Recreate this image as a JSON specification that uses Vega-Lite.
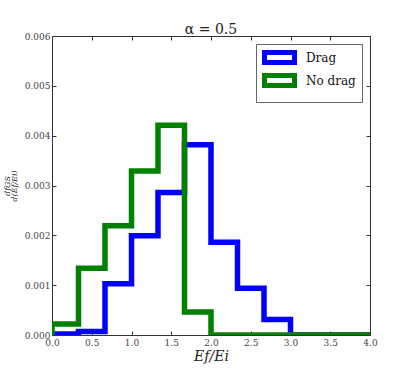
{
  "$schema": "https://vega.github.io/schema/vega-lite/v6.json",
  "width": 318,
  "height": 299,
  "autosize": {"type": "none"},
  "padding": {"left": 52, "top": 36, "right": 41, "bottom": 39},
  "title": {"text": "α = 0.5", "font": "DejaVu Serif", "fontSize": 14, "fontWeight": "normal", "color": "#222", "offset": -5},
  "config": {
    "view": {"stroke": "#333", "strokeWidth": 1},
    "axis": {"labelFont": "DejaVu Serif", "labelFontSize": 9, "labelColor": "#444", "tickColor": "#333", "domain": false, "grid": false, "tickSize": -4, "labelFlush": false, "labelOverlap": false, "titleFont": "DejaVu Serif", "titleFontWeight": "normal", "titleColor": "#222"}
  },
  "data": {"values": [
    {"s": "Drag", "i": 0, "x": 0, "y": 0},
    {"s": "Drag", "i": 1, "x": 0, "y": 0.00002},
    {"s": "Drag", "i": 2, "x": 0.3333, "y": 0.00007},
    {"s": "Drag", "i": 3, "x": 0.6667, "y": 0.00103},
    {"s": "Drag", "i": 4, "x": 1.0, "y": 0.00199},
    {"s": "Drag", "i": 5, "x": 1.3333, "y": 0.00286},
    {"s": "Drag", "i": 6, "x": 1.6667, "y": 0.00382},
    {"s": "Drag", "i": 7, "x": 2.0, "y": 0.00186},
    {"s": "Drag", "i": 8, "x": 2.3333, "y": 0.00094},
    {"s": "Drag", "i": 9, "x": 2.6667, "y": 0.00031},
    {"s": "Drag", "i": 10, "x": 3.0, "y": 0},
    {"s": "Drag", "i": 11, "x": 3.3333, "y": 0},
    {"s": "Drag", "i": 12, "x": 3.6667, "y": 0},
    {"s": "Drag", "i": 13, "x": 4.0, "y": 0},
    {"s": "No drag", "i": 0, "x": 0, "y": 0},
    {"s": "No drag", "i": 1, "x": 0, "y": 0.00022},
    {"s": "No drag", "i": 2, "x": 0.3333, "y": 0.00134},
    {"s": "No drag", "i": 3, "x": 0.6667, "y": 0.00219},
    {"s": "No drag", "i": 4, "x": 1.0, "y": 0.00329},
    {"s": "No drag", "i": 5, "x": 1.3333, "y": 0.00421},
    {"s": "No drag", "i": 6, "x": 1.6667, "y": 0.00046},
    {"s": "No drag", "i": 7, "x": 2.0, "y": 0},
    {"s": "No drag", "i": 8, "x": 2.3333, "y": 0},
    {"s": "No drag", "i": 9, "x": 2.6667, "y": 0},
    {"s": "No drag", "i": 10, "x": 3.0, "y": 0},
    {"s": "No drag", "i": 11, "x": 3.3333, "y": 0},
    {"s": "No drag", "i": 12, "x": 3.6667, "y": 0},
    {"s": "No drag", "i": 13, "x": 4.0, "y": 0}
  ]},
  "layer": [
    {
      "transform": [{"filter": "datum.s === 'Drag'"}],
      "mark": {"type": "line", "interpolate": "step-after", "strokeWidth": 5.5, "clip": true, "strokeJoin": "miter", "strokeCap": "butt"},
      "encoding": {
        "x": {"field": "x", "type": "quantitative", "scale": {"domain": [0, 4], "nice": false, "zero": false},
              "axis": {"orient": "bottom", "values": [0, 0.5, 1, 1.5, 2, 2.5, 3, 3.5, 4], "format": ".1f", "labelPadding": 7, "title": "Ef/Ei", "titleFontSize": 14, "titleFontStyle": "italic", "titlePadding": 2}},
        "y": {"field": "y", "type": "quantitative", "scale": {"domain": [0, 0.006], "nice": false},
              "axis": {"orient": "left", "values": [0, 0.001, 0.002, 0.003, 0.004, 0.005, 0.006], "format": ".3f", "labelPadding": 6, "title": ["dfGS", "d(Ef/Ei)"], "titleFontSize": 8, "titleFontStyle": "italic", "titleLineHeight": 7, "titlePadding": 6}},
        "order": {"field": "i", "type": "quantitative"},
        "color": {"field": "s", "type": "nominal", "scale": {"domain": ["Drag", "No drag"], "range": ["#0000ff", "#008000"]},
                  "legend": {"title": null, "orient": "none", "legendX": 204, "legendY": 8, "strokeColor": "#666", "fillColor": "white", "padding": 6, "cornerRadius": 0,
                             "symbolType": "M-3,-1H3V1H-3Z", "symbolSize": 100, "symbolStrokeWidth": 5, "symbolOpacity": 1, "symbolOffset": 10,
                             "labelFont": "DejaVu Serif", "labelFontSize": 12, "labelColor": "#111", "labelOffset": 19, "rowPadding": -9,
                             "encode": {"symbols": {"update": {"strokeWidth": {"value": 5}, "fill": {"value": "white"}}}}}}
      }
    },
    {
      "transform": [{"filter": "datum.s === 'No drag'"}],
      "mark": {"type": "line", "interpolate": "step-after", "strokeWidth": 5.5, "clip": true, "strokeJoin": "miter", "strokeCap": "butt"},
      "encoding": {
        "x": {"field": "x", "type": "quantitative", "axis": {"orient": "top", "values": [0, 0.5, 1, 1.5, 2, 2.5, 3, 3.5, 4], "labels": false, "title": null}},
        "y": {"field": "y", "type": "quantitative", "axis": {"orient": "right", "values": [0, 0.001, 0.002, 0.003, 0.004, 0.005, 0.006], "labels": false, "title": null}},
        "order": {"field": "i", "type": "quantitative"},
        "color": {"field": "s", "type": "nominal"}
      }
    }
  ],
  "resolve": {"axis": {"x": "independent", "y": "independent"}}
}
